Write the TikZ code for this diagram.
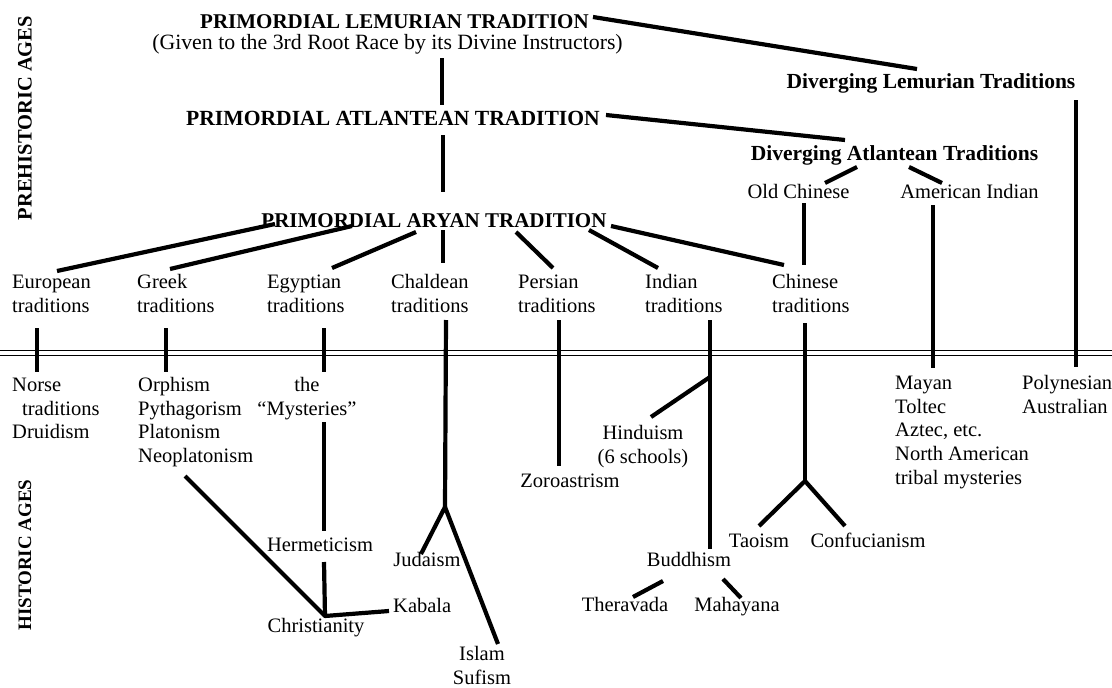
\documentclass[tikz,border=0pt]{standalone}
\usepackage{fontspec}
\setmainfont{Liberation Serif}
\newcommand\tstr{\rule{0pt}{17pt}}
\begin{document}
\begin{tikzpicture}[x=1pt,y=-1pt,
  txt/.style={font=\fontsize{20.5}{23.8}\selectfont, inner sep=0pt},
  ttl/.style={font=\bfseries\fontsize{21}{24}\selectfont, inner sep=0pt, anchor=base},
  dv/.style={font=\bfseries\fontsize{21.5}{24}\selectfont, inner sep=0pt, anchor=base},
  era/.style={font=\bfseries\fontsize{20.5}{24}\selectfont, inner sep=0pt, rotate=90},
  one/.style={txt, anchor=base},
  mll/.style={txt, align=left, anchor=north west, yshift=17pt},
  mlc/.style={txt, align=center, anchor=north, yshift=17pt},
  conn/.style={line width=4.2pt, line join=round},
  rule/.style={line width=1.3pt}]
\useasboundingbox (0,0) rectangle (1112,688);
\fill[white] (0,0) rectangle (1112,688);

% era labels
\node[era] (pre) at (25,118) {PREHISTORIC AGES};
\node[era, font=\bfseries\fontsize{19}{24}\selectfont] (his) at (25,555) {HISTORIC AGES};

% titles
\node[ttl] (lem) at (394.5,28) {PRIMORDIAL LEMURIAN TRADITION};
\node[one, font=\fontsize{21.8}{24}\selectfont] (given) at (387.5,49) {(Given to the 3rd Root Race by its Divine Instructors)};
\node[ttl, font=\bfseries\fontsize{21.6}{24}\selectfont] (atl) at (393,125) {PRIMORDIAL ATLANTEAN TRADITION};
\node[ttl] (ary) at (434,227) {PRIMORDIAL ARYAN TRADITION};
\node[dv] (divlem) at (931,88) {Diverging Lemurian Traditions};
\node[dv] (divatl) at (894.5,160) {Diverging Atlantean Traditions};
\node[one] (oldch) at (798.5,198) {Old Chinese};
\node[one] (amind) at (969.5,198) {American Indian};

% Aryan branches
\node[mll] (eur) at (12,288) {\tstr European\\traditions};
\node[mll] (grk) at (137,288) {\tstr Greek\\traditions};
\node[mll] (egy) at (267,288) {\tstr Egyptian\\traditions};
\node[mll] (chal) at (391,288) {\tstr Chaldean\\traditions};
\node[mll] (pers) at (518,288) {\tstr Persian\\traditions};
\node[mll] (ind) at (645,288) {\tstr Indian\\traditions};
\node[mll] (chin) at (772,288) {\tstr Chinese\\traditions};

% historic
\node[mll] (norse) at (12,391) {\tstr Norse\\\hspace*{10pt}traditions\\Druidism};
\node[mll] (orph) at (138,391) {\tstr Orphism\\Pythagorism\\Platonism\\Neoplatonism};
\node[mlc] (myst) at (307,391) {\tstr the\\“Mysteries”};
\node[mll] (mayan) at (895,389) {\tstr Mayan\\Toltec\\Aztec, etc.\\North American\\tribal mysteries};
\node[mll] (poly) at (1022,389) {\tstr Polynesian\\Australian};
\node[mlc] (hind) at (643,439) {\tstr Hinduism\\(6 schools)};
\node[one] (zoro) at (570,487) {Zoroastrism};
\node[one] (herm) at (320,551) {Hermeticism};
\node[one] (jud) at (427,566) {Judaism};
\node[txt, anchor=base west] (kab) at (393,612) {Kabala};
\node[one] (chr) at (316,632) {Christianity};
\node[mlc] (islam) at (482,660) {\tstr Islam\\Sufism};
\node[one] (tao) at (759,547) {Taoism};
\node[one] (conf) at (868,547) {Confucianism};
\node[one] (budd) at (689,566) {Buddhism};
\node[one] (thera) at (625,611) {Theravada};
\node[one] (maha) at (737,611) {Mahayana};

% double rule between ages
\draw[rule] (0,350.8) -- (1112,350.8);
\draw[rule] (0,355.3) -- (1112,355.3);

% connector end points
\coordinate (lem-o) at (593,17);   \coordinate (divlem-i) at (917,69);
\coordinate (given-o) at (442,58); \coordinate (atl-i) at (442,105);
\coordinate (atl-o) at (606,115);  \coordinate (divatl-i) at (845,140);
\coordinate (atl-d) at (443,135);  \coordinate (ary-i) at (443,192);
\coordinate (ary-eur) at (275,224);  \coordinate (eur-i) at (57,271);
\coordinate (ary-grk) at (352,226);  \coordinate (grk-i) at (170,269);
\coordinate (ary-egy) at (416,232);  \coordinate (egy-i) at (332,268);
\coordinate (ary-chal) at (443,230); \coordinate (chal-i) at (443,263);
\coordinate (ary-pers) at (516,232); \coordinate (pers-i) at (553,268);
\coordinate (ary-ind) at (589,230);  \coordinate (ind-i) at (658,268);
\coordinate (ary-chin) at (611,226); \coordinate (chin-i) at (784,265);
\coordinate (divatl-l) at (857,167); \coordinate (oldch-i) at (825,183);
\coordinate (divatl-r) at (909,167); \coordinate (amind-i) at (942,183);
\coordinate (oldch-o) at (804,203);  \coordinate (chin-t) at (804,265);
\coordinate (eur-o) at (37,328);   \coordinate (norse-i) at (37,372);
\coordinate (grk-o) at (166,328);  \coordinate (orph-i) at (166,372);
\coordinate (egy-o) at (324,328);  \coordinate (myst-i) at (324,372);
\coordinate (chal-o) at (446,320); \coordinate (J1) at (445,507);
\coordinate (jud-i) at (421,554);  \coordinate (islam-i) at (498,644);
\coordinate (pers-o) at (559,320); \coordinate (zoro-i) at (559,466);
\coordinate (ind-o) at (710,320);  \coordinate (budd-i) at (710,549);
\coordinate (H) at (710,377);      \coordinate (hind-i) at (651,417);
\coordinate (chin-o) at (805,323); \coordinate (J2) at (805,481);
\coordinate (tao-i) at (759,526);  \coordinate (conf-i) at (845,526);
\coordinate (amind-o) at (933,205); \coordinate (mayan-i) at (933,368);
\coordinate (divlem-o) at (1076,100); \coordinate (poly-i) at (1076,367);
\coordinate (myst-o) at (324,422); \coordinate (herm-i) at (324,531);
\coordinate (herm-o) at (324,562); \coordinate (J3) at (325,616);
\coordinate (orph-o) at (185,476); \coordinate (kab-i) at (389,611);
\coordinate (budd-l) at (663,581); \coordinate (thera-i) at (633,597);
\coordinate (budd-r) at (723,579); \coordinate (maha-i) at (741,598);

% connectors
\draw[conn] (lem-o) -- (divlem-i);
\draw[conn] (given-o) -- (atl-i);
\draw[conn] (atl-o) -- (divatl-i);
\draw[conn] (atl-d) -- (ary-i);
\draw[conn] (ary-eur) -- (eur-i);
\draw[conn] (ary-grk) -- (grk-i);
\draw[conn] (ary-egy) -- (egy-i);
\draw[conn] (ary-chal) -- (chal-i);
\draw[conn] (ary-pers) -- (pers-i);
\draw[conn] (ary-ind) -- (ind-i);
\draw[conn] (ary-chin) -- (chin-i);
\draw[conn] (divatl-l) -- (oldch-i);
\draw[conn] (divatl-r) -- (amind-i);
\draw[conn] (oldch-o) -- (chin-t);
\draw[conn] (eur-o) -- (norse-i);
\draw[conn] (grk-o) -- (orph-i);
\draw[conn] (egy-o) -- (myst-i);
\draw[conn] (chal-o) -- (J1);
\draw[conn] (jud-i) -- (J1) -- (islam-i);
\draw[conn] (pers-o) -- (zoro-i);
\draw[conn] (ind-o) -- (budd-i);
\draw[conn] (H) -- (hind-i);
\draw[conn] (chin-o) -- (J2);
\draw[conn] (tao-i) -- (J2) -- (conf-i);
\draw[conn] (amind-o) -- (mayan-i);
\draw[conn] (divlem-o) -- (poly-i);
\draw[conn] (myst-o) -- (herm-i);
\draw[conn] (herm-o) -- (J3);
\draw[conn] (orph-o) -- (J3) -- (kab-i);
\draw[conn] (budd-l) -- (thera-i);
\draw[conn] (budd-r) -- (maha-i);
\end{tikzpicture}
\end{document}
